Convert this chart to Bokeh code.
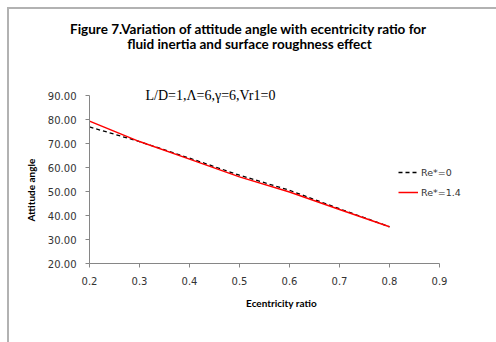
from bokeh.plotting import figure
from bokeh.layouts import column, row
from bokeh.models import Label, Legend, LegendItem, FixedTicker, NumeralTickFormatter, Range1d
from bokeh.embed import file_html
from bokeh.resources import INLINE
import math

ecc = [0.2, 0.3, 0.4, 0.5, 0.6, 0.7, 0.8]
re0 = [76.9, 70.8, 63.9, 56.8, 50.5, 42.8, 35.3]
re14 = [79.3, 70.8, 63.5, 56.1, 49.8, 42.5, 35.3]
x_ticks = [0.2, 0.3, 0.4, 0.5, 0.6, 0.7, 0.8, 0.9]
y_ticks = [20, 30, 40, 50, 60, 70, 80, 90]

title1 = "Figure 7.Variation of attitude angle with ecentricity ratio for"
title2 = "fluid inertia and surface roughness effect"
note = "L/D=1,\u039b=6,\u03b3=6,Vr1=0"
x_title = "Ecentricity ratio"
y_title = "Attitude angle"

def blank(w, h, xr, yr):
    f = figure(width=w, height=h, output_backend="svg", toolbar_location=None,
               x_range=Range1d(*xr), y_range=Range1d(*yr),
               x_axis_location=None, y_axis_location=None,
               min_border=0, min_border_left=0, min_border_right=0,
               min_border_top=0, min_border_bottom=0)
    f.grid.visible = False
    f.outline_line_color = None
    f.background_fill_color = "white"
    f.border_fill_color = "white"
    return f

# ---- title area (canvas x 9..496, y 9..80)
tfig = blank(487, 71, (9, 496), (80, 9))
tfig.add_layout(Label(text=title1, x=248, y=28, text_font="Lato", text_font_style="bold",
                      text_font_size="13.5px", text_align="center", text_baseline="alphabetic",
                      text_color="black"))
tfig.add_layout(Label(text=title2, x=249, y=43.5, text_font="Lato", text_font_style="bold",
                      text_font_size="13.5px", text_align="center", text_baseline="alphabetic",
                      text_color="black"))

# ---- y title strip (canvas x 9..44, y 80..342)
yfig = blank(35, 262, (9, 44), (342, 80))
yfig.add_layout(Label(text=y_title, x=30, y=237, angle=math.pi / 2, text_font="Lato",
                      text_font_style="bold", text_font_size="10px", text_align="center",
                      text_baseline="middle", text_color="black"))

# ---- chart (canvas x 44..473, y 80..342); frame 89..473 x 80..263
p = figure(width=429, height=262, output_backend="svg", toolbar_location=None,
           x_range=Range1d(0.2, 0.968), y_range=Range1d(20, 96.25),
           min_border_left=45, min_border_right=0, min_border_top=0, min_border_bottom=79)
p.xgrid.visible = False
p.ygrid.visible = False
p.outline_line_color = None
p.background_fill_color = "white"
p.border_fill_color = "white"

for ax in (p.xaxis[0], p.yaxis[0]):
    ax.axis_line_color = "#868686"
    ax.major_tick_line_color = "#868686"
    ax.minor_tick_line_color = None
    ax.major_tick_in = 0
    ax.major_tick_out = 4
    ax.major_label_text_font = "DejaVu Sans"
    ax.major_label_text_font_size = "10px"
    ax.major_label_text_color = "#333333"
p.yaxis[0].major_label_standoff = 9
p.xaxis[0].major_label_standoff = 9
p.xaxis[0].bounds = (0.2, 0.9)
p.yaxis[0].bounds = (20, 90)
p.xaxis[0].ticker = FixedTicker(ticks=x_ticks)
p.yaxis[0].ticker = FixedTicker(ticks=y_ticks)
p.yaxis[0].formatter = NumeralTickFormatter(format="0.00")
p.xaxis[0].formatter = NumeralTickFormatter(format="0.0")
p.xaxis[0].axis_label = x_title
p.xaxis[0].axis_label_text_font = "Lato"
p.xaxis[0].axis_label_text_font_style = "bold"
p.xaxis[0].axis_label_text_font_size = "10px"
p.xaxis[0].axis_label_text_color = "black"
p.xaxis[0].axis_label_standoff = 9

r0 = p.line(ecc, re0, line_color="black", line_width=1.3, line_dash="4 3")
r1 = p.line(ecc, re14, line_color="#ff0000", line_width=1.5)

legend = Legend(items=[LegendItem(label="Re*=0", renderers=[r0]),
                       LegendItem(label="Re*=1.4", renderers=[r1])],
                location=(309, 61), orientation="vertical",
                border_line_color=None, background_fill_alpha=0,
                padding=0, margin=0, spacing=0, glyph_width=20, glyph_height=20,
                label_standoff=3, label_text_font="DejaVu Sans", label_text_font_size="9.5px",
                label_text_color="#333333", label_height=20)
p.add_layout(legend)

p.add_layout(Label(text=note, x=56, y=168.5, x_units="screen", y_units="screen",
                   text_font="Liberation Serif", text_font_size="14px",
                   text_align="left", text_baseline="alphabetic", text_color="black"))

layout = column(tfig, row(yfig, p, spacing=0), spacing=0,
                styles={"margin-left": "7px", "margin-top": "7px",
                        "border-left": "2px solid #b2b2b2", "border-top": "2px solid #b2b2b2"})

open("out.html", "w").write(file_html(layout, INLINE))
